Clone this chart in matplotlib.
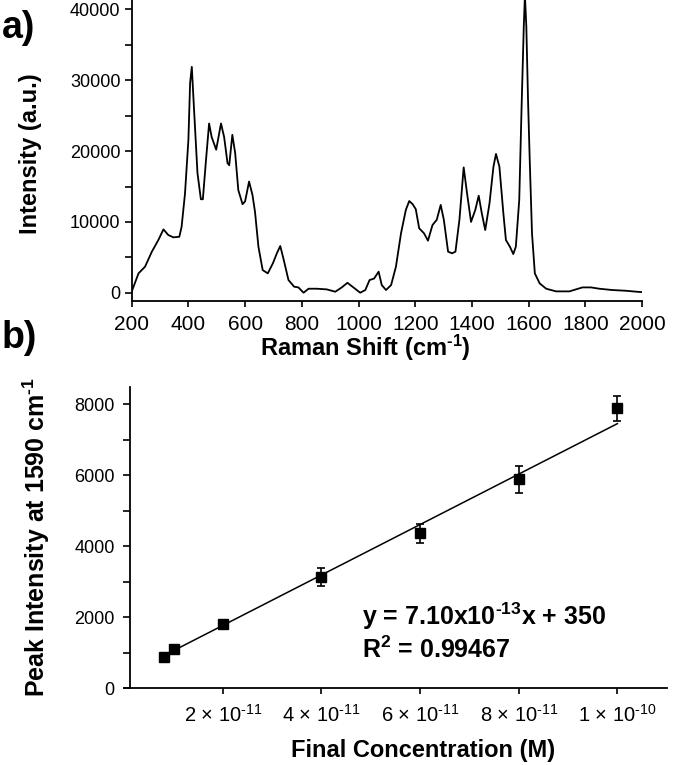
import matplotlib
matplotlib.use("Agg")
import matplotlib.pyplot as plt
import numpy as np

plt.rcParams["font.family"] = ["Liberation Sans", "DejaVu Sans"]
plt.rcParams["mathtext.fontset"] = "custom"
plt.rcParams["mathtext.rm"] = "Liberation Sans"
plt.rcParams["mathtext.bf"] = "Liberation Sans:bold"
plt.rcParams["mathtext.default"] = "regular"

# a) Raman spectrum
raman_shift = [200, 224, 247, 271, 294, 312, 329, 347, 368, 376, 388, 400, 406,
               412, 420, 432, 444, 451, 462, 473, 482, 498, 515, 526, 538, 544,
               555, 565, 576, 591, 600, 614, 626, 635, 647, 662, 680, 698, 712,
               724, 735, 753, 773, 788, 806, 824, 853, 888, 918, 941, 961, 982,
               1006, 1024, 1039, 1055, 1071, 1082, 1097, 1115, 1132, 1150, 1167,
               1179, 1191, 1202, 1214, 1231, 1245, 1261, 1276, 1290, 1301, 1316,
               1330, 1342, 1356, 1371, 1383, 1397, 1412, 1424, 1435, 1447, 1462,
               1476, 1485, 1497, 1511, 1520, 1534, 1546, 1555, 1567, 1575, 1583,
               1587, 1592, 1598, 1604, 1612, 1622, 1639, 1662, 1697, 1744, 1767,
               1790, 1820, 1849, 1895, 1942, 1994, 2000]
intensity = [150, 2730, 3670, 5790, 7440, 8950, 8150, 7820, 7900, 9300, 14000,
             21600, 29600, 31900, 25800, 16900, 13200, 13200, 18700, 23900, 22000,
             20200, 23900, 22000, 18300, 18000, 22300, 19700, 14500, 12500, 12900,
             15700, 13800, 11400, 6500, 3200, 2730, 4150, 5560, 6600, 4850, 1790,
             850, 750, 0, 565, 565, 470, 140, 750, 1400, 750, 0, 380, 1790, 2000,
             2970, 1080, 380, 1080, 3670, 8400, 11700, 12950, 12500, 11800, 9100,
             8400, 7350, 9560, 10300, 12400, 10300, 5800, 5560, 5800, 10300, 17700,
             14000, 10000, 11700, 13700, 11200, 8850, 12600, 17800, 19600, 17800,
             11200, 7440, 6500, 5460, 6500, 13100, 25800, 37600, 42000, 37600,
             27200, 18700, 8400, 2730, 1320, 565, 190, 190, 470, 750, 750, 565,
             380, 280, 95, 95]

# b) calibration at 1590 cm-1
conc = [0.8e-11, 1.0e-11, 2.0e-11, 4.0e-11, 6.0e-11, 8.0e-11, 1.0e-10]
peak = [890, 1100, 1820, 3130, 4360, 5880, 7880]
peak_err = [60, 60, 80, 250, 270, 385, 345]
fit_slope, fit_icpt = 7.10e13, 350
fit_range = [1.0e-11, 1.0e-10]
conc_ticks = [2e-11, 4e-11, 6e-11, 8e-11, 1e-10]
conc_labels = ["2 × 10$^{\u201011}$", "4 × 10$^{\u201011}$", "6 × 10$^{\u201011}$",
               "8 × 10$^{\u201011}$", "1 × 10$^{\u201010}$"]

W, H = 680, 765
fig = plt.figure(figsize=(W / 100, H / 100), dpi=100)


def px(x, y):
    return x / W, 1 - y / H


# ---- panel a
axa = fig.add_axes([131.7 / W, 1 - 301 / H, (642 - 131.7) / W, 301 / H])
axa.plot(raman_shift, intensity, color="black", lw=1.3)
axa.set_xlim(200, 2000)
axa.set_ylim(-1170, 41340)
axa.set_xticks(range(200, 2001, 200))
axa.set_yticks(range(0, 40001, 10000))
axa.set_yticks(range(5000, 40000, 10000), minor=True)
axa.tick_params(axis="x", labelsize=15, length=4, width=1.2, pad=6)
axa.tick_params(axis="y", which="both", labelsize=13, length=5, width=1.2, pad=3)
for s in ("top", "right"):
    axa.spines[s].set_visible(False)
for s in ("left", "bottom"):
    axa.spines[s].set_linewidth(1.3)

fig.text(*px(2, 38), "a)", fontsize=27, fontweight="bold", ha="left", va="baseline")
fig.text(*px(31, 154), "Intensity (a.u.)", fontsize=17, fontweight="bold",
         rotation=90, ha="center", va="center")
fig.text(*px(365, 356), "Raman Shift (cm$^{\u20101}$)", fontsize=17, fontweight="bold",
         ha="center", va="baseline")

# ---- panel b
axb = fig.add_axes([124.2 / W, 1 - 688.3 / H, (666.7 - 124.2) / W, (688.3 - 386.7) / H])
xf = np.array(fit_range)
axb.plot(xf, fit_slope * xf + fit_icpt, color="black", lw=1.1)
axb.errorbar(conc, peak, yerr=peak_err, fmt="s", color="black", ms=7,
             elinewidth=1.2, capsize=3, capthick=1.2)
axb.set_xlim(0, 1.1e-10)
axb.set_ylim(0, 8490)
axb.set_xticks(conc_ticks)
axb.set_xticklabels(conc_labels)
axb.set_yticks(range(0, 8001, 2000))
axb.set_yticks(range(1000, 8000, 2000), minor=True)
axb.tick_params(axis="x", labelsize=14.5, length=4, width=1.2, pad=7)
axb.tick_params(axis="y", which="both", labelsize=13, length=5, width=1.2, pad=6)
axb.spines["left"].set_position(("data", 1.2e-12))
for s in ("top", "right"):
    axb.spines[s].set_visible(False)
for s in ("left", "bottom"):
    axb.spines[s].set_linewidth(1.3)

axb.text(4.83e-11, 2020, "y = 7.10x10$^{\u201013}$x + 350", fontsize=18,
         fontweight="bold", ha="left", va="center")
axb.text(4.83e-11, 1070, "R$^{2}$ = 0.99467", fontsize=18,
         fontweight="bold", ha="left", va="center")

fig.text(*px(2, 348), "b)", fontsize=27, fontweight="bold", ha="left", va="baseline")
fig.text(*px(36, 537), "Peak Intensity at 1590 cm$^{\u20101}$", fontsize=18,
         fontweight="bold", rotation=90, ha="center", va="center")
fig.text(*px(423, 757), "Final Concentration (M)", fontsize=17, fontweight="bold",
         ha="center", va="baseline")

fig.savefig("out.png", dpi=100)
